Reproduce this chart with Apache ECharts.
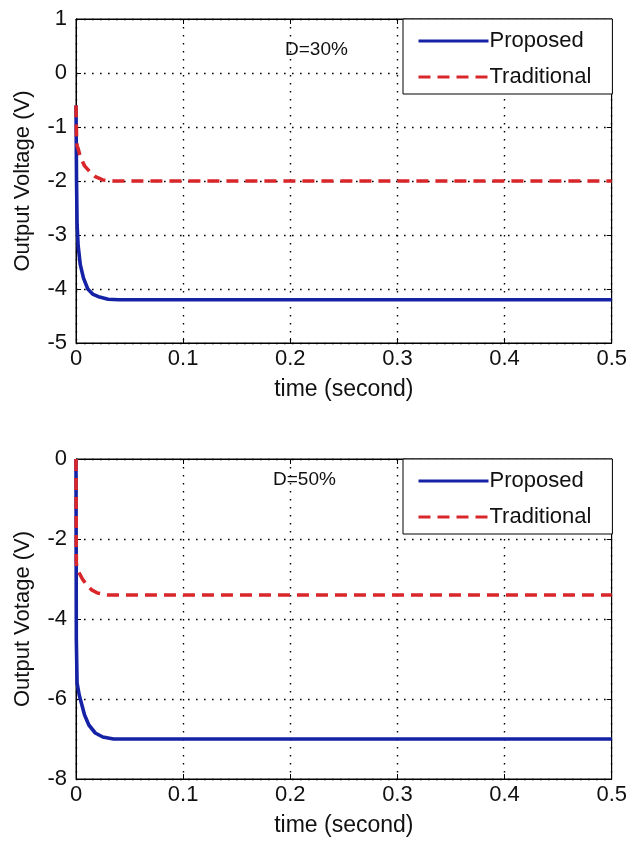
<!DOCTYPE html>
<html>
<head>
<meta charset="utf-8">
<script src="https://cdn.jsdelivr.net/npm/echarts@6/dist/echarts.min.js"></script>
<style>html,body{margin:0;padding:0;background:#fff;}#c{width:630px;height:842px;}</style>
</head>
<body>
<div id="c"></div>
<script>
// Top panel (D=30%)
var topProposed = [[0,-0.6],[0.0005,-2.0],[0.001,-2.8],[0.002,-3.2],[0.004,-3.55],[0.007,-3.8],[0.011,-4.0],[0.016,-4.1],[0.022,-4.15],[0.03,-4.19],[0.04,-4.2],[0.5,-4.2]];
var topTraditional = [[0,-0.6],[0.0005,-1.2],[0.001,-1.35],[0.002,-1.4],[0.004,-1.55],[0.008,-1.72],[0.013,-1.83],[0.018,-1.92],[0.025,-1.98],[0.035,-2.0],[0.5,-2.0]];
// Bottom panel (D=50%)
var botProposed = [[0,0],[0.0003,-4.5],[0.001,-5.6],[0.003,-5.9],[0.005,-6.1],[0.008,-6.4],[0.012,-6.65],[0.018,-6.85],[0.025,-6.95],[0.035,-7.0],[0.5,-7.0]];
var botTraditional = [[0,0],[0.0003,-2.6],[0.001,-2.75],[0.003,-2.85],[0.006,-3.0],[0.01,-3.15],[0.015,-3.28],[0.02,-3.35],[0.03,-3.4],[0.5,-3.4]];
var xTicks = [0, 0.1, 0.2, 0.3, 0.4, 0.5];
var topYRange = {min: -5, max: 1, interval: 1};
var botYRange = {min: -8, max: 0, interval: 2};
var labels = {x: 'time (second)', yTop: 'Output Voltage (V)', yBot: 'Output Votage (V)', dTop: 'D=30%', dBot: 'D=50%'};

var FONT = '"Liberation Sans", Arial, sans-serif';
var blue = '#1622a6', red = '#d8262a';
var DOT = [1.6, 6.4];

function xAx(gi, bottom) {
  return {
    type: 'value', gridIndex: gi, min: xTicks[0], max: xTicks[xTicks.length-1], interval: 0.1,
    position: bottom ? 'bottom' : 'top',
    name: bottom ? labels.x : '', nameLocation: 'middle', nameGap: 35,
    nameTextStyle: {fontFamily: FONT, fontSize: 23, color: '#111'},
    axisLine: {show: true, onZero: false, lineStyle: {color: '#000', width: 1}},
    axisTick: {show: true, inside: true, length: 5, lineStyle: {color: '#000'}},
    axisLabel: {show: bottom, margin: 5, fontFamily: FONT, fontSize: 22, color: '#111',
      formatter: function(v){ return v === 0 ? '0' : String(Math.round(v*10)/10); }},
    splitLine: {show: bottom, lineStyle: {color: '#000', type: DOT, width: 1.4}}
  };
}
function yAx(gi, r, name, left) {
  return {
    type: 'value', gridIndex: gi, min: r.min, max: r.max, interval: r.interval,
    position: left ? 'left' : 'right',
    name: left ? name : '', nameLocation: 'middle', nameGap: 42,
    nameTextStyle: {fontFamily: FONT, fontSize: 22, color: '#111'},
    axisLine: {show: true, onZero: false, lineStyle: {color: '#000', width: 1}},
    axisTick: {show: true, inside: true, length: 5, lineStyle: {color: '#000'}},
    axisLabel: {show: left, margin: 9, fontFamily: FONT, fontSize: 22, color: '#111'},
    splitLine: {show: left, lineStyle: {color: '#000', type: DOT, width: 1.4}}
  };
}
function legendFor(top) {
  return {
    orient: 'vertical', left: 403, top: top, data: ['Proposed', 'Traditional'],
    backgroundColor: '#fff', borderColor: '#000', borderWidth: 1,
    padding: [11, 21, 6, 14], itemGap: 14, itemWidth: 70, itemHeight: 14,
    itemStyle: {opacity: 0},
    lineStyle: {width: 3},
    textStyle: {fontFamily: FONT, fontSize: 22, color: '#111', padding: [0,0,0,-4]},
    selectedMode: false
  };
}
function ser(name, data, xi, yi, color, dashed, z) {
  return {
    name: name, type: 'line', xAxisIndex: xi, yAxisIndex: yi, data: data,
    showSymbol: false, symbol: 'none', smooth: false, z: z, animation: false,
    lineStyle: {color: color, width: 3.6, type: dashed ? [12, 7] : 'solid'},
    itemStyle: {color: color}
  };
}

var chart = echarts.init(document.getElementById('c'));
chart.setOption({
  backgroundColor: '#fff',
  animation: false,
  grid: [
    {left: 76, right: 16, top: 19, height: 324, show: true, borderColor: '#000', borderWidth: 1},
    {left: 76, right: 16, top: 459, height: 320, show: true, borderColor: '#000', borderWidth: 1}
  ],
  xAxis: [xAx(0, true), xAx(0, false), xAx(1, true), xAx(1, false)],
  yAxis: [yAx(0, topYRange, labels.yTop, true), yAx(0, topYRange, '', false),
          yAx(1, botYRange, labels.yBot, true), yAx(1, botYRange, '', false)],
  legend: [legendFor(19), legendFor(459)],
  series: [
    ser('Proposed', topProposed, 0, 0, blue, false, 3),
    ser('Traditional', topTraditional, 0, 0, red, true, 4),
    ser('Proposed', botProposed, 2, 2, blue, false, 3),
    ser('Traditional', botTraditional, 2, 2, red, true, 4)
  ],
  graphic: [
    {type: 'text', left: 285, top: 40, z: 10, style: {text: labels.dTop, fontFamily: FONT, fontSize: 19, fill: '#111'}},
    {type: 'text', left: 273, top: 470, z: 10, style: {text: labels.dBot, fontFamily: FONT, fontSize: 19, fill: '#111'}}
  ]
});
</script>
</body>
</html>
